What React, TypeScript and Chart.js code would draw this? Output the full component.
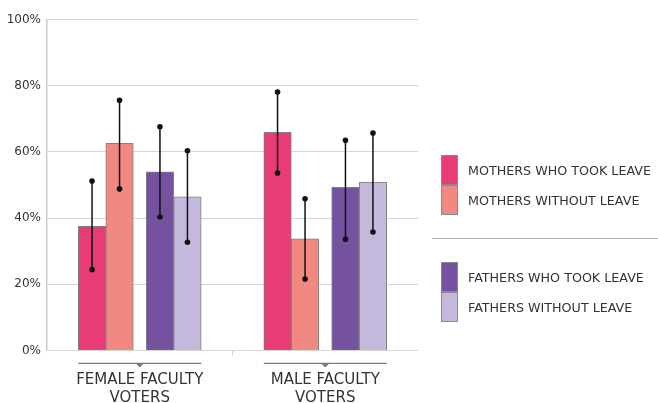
import { useEffect, useRef } from "react";
import { Chart, registerables } from "chart.js";

Chart.register(...registerables);

// groups on the x axis (multi-line labels)
const groupLabels = [
  ["FEMALE FACULTY", "VOTERS"],
  ["MALE FACULTY", "VOTERS"],
];

const seriesNames = [
  "MOTHERS WHO TOOK LEAVE",
  "MOTHERS WITHOUT LEAVE",
  "FATHERS WHO TOOK LEAVE",
  "FATHERS WITHOUT LEAVE",
];
const seriesColors = ["#E83C76", "#F18882", "#74529F", "#C4B9DD"];

// share of votes, %
const mothersTook = [37.5, 65.9];
const mothersWithout = [62.6, 33.7];
const fathersTook = [54.0, 49.3];
const fathersWithout = [46.4, 50.9];

// confidence intervals
const mothersTookLow = [24.4, 53.6];
const mothersTookHigh = [51.2, 78.1];
const mothersWithoutLow = [48.8, 21.6];
const mothersWithoutHigh = [75.6, 45.8];
const fathersTookLow = [40.3, 33.6];
const fathersTookHigh = [67.6, 63.5];
const fathersWithoutLow = [32.7, 35.8];
const fathersWithoutHigh = [60.3, 65.7];

const yTicks = [0, 20, 40, 60, 80, 100];

const seriesValues = [mothersTook, mothersWithout, fathersTook, fathersWithout];
const seriesLow = [mothersTookLow, mothersWithoutLow, fathersTookLow, fathersWithoutLow];
const seriesHigh = [mothersTookHigh, mothersWithoutHigh, fathersTookHigh, fathersWithoutHigh];

const FONT = "'DejaVu Sans', sans-serif";
const BAR_WIDTH = 27.5;
// distance of each bar centre from the group centre: mothers pair | gap | fathers pair
const BAR_OFFSETS = [-47.7, -20.2, 20.2, 47.7];

// chunk size so that bar i of 4 sits at its offset from the category centre
const slotThickness = (i: number) => BAR_OFFSETS[i] / (i - 1.5);

const errorBars = {
  id: "errorBars",
  afterDatasetsDraw(chart: Chart) {
    const ctx = chart.ctx;
    const y = chart.scales.y;
    ctx.save();
    seriesValues.forEach((_, i) => {
      const meta = chart.getDatasetMeta(i);
      meta.data.forEach((bar: any, j: number) => {
        const top = y.getPixelForValue(seriesHigh[i][j]);
        const bottom = y.getPixelForValue(seriesLow[i][j]);
        ctx.strokeStyle = "#111";
        ctx.lineWidth = 1.5;
        ctx.beginPath();
        ctx.moveTo(bar.x, top);
        ctx.lineTo(bar.x, bottom);
        ctx.stroke();
        ctx.fillStyle = "#111";
        [top, bottom].forEach((py) => {
          ctx.beginPath();
          ctx.arc(bar.x, py, 2.8, 0, Math.PI * 2);
          ctx.fill();
        });
      });
    });
    ctx.restore();
  },
};

// bracket line with a small notch under each group
const groupBrackets = {
  id: "groupBrackets",
  afterDraw(chart: Chart) {
    const ctx = chart.ctx;
    const first = chart.getDatasetMeta(0).data;
    const last = chart.getDatasetMeta(seriesValues.length - 1).data;
    const yLine = chart.chartArea.bottom + 13;
    ctx.save();
    ctx.strokeStyle = "#7a7a7a";
    ctx.fillStyle = "#7a7a7a";
    ctx.lineWidth = 1.2;
    first.forEach((bar: any, j: number) => {
      const left = bar.x - bar.width / 2;
      const right = (last[j] as any).x + (last[j] as any).width / 2;
      const mid = (left + right) / 2;
      ctx.beginPath();
      ctx.moveTo(left, yLine);
      ctx.lineTo(right, yLine);
      ctx.stroke();
      ctx.beginPath();
      ctx.moveTo(mid - 4, yLine);
      ctx.lineTo(mid + 4, yLine);
      ctx.lineTo(mid, yLine + 4);
      ctx.closePath();
      ctx.fill();
    });
    ctx.restore();
  },
};

function Legend() {
  const rows = [
    { top: 155, items: [0, 1] },
    { top: 262, items: [2, 3] },
  ];
  return (
    <>
      {rows.map((row) =>
        row.items.map((i, k) => (
          <div key={i}>
            <div
              style={{
                position: "absolute",
                left: 441,
                top: row.top + k * 30,
                width: 17,
                height: 30,
                boxSizing: "border-box",
                background: seriesColors[i],
                border: "1px solid #8a8a8a",
              }}
            />
            <div
              style={{
                position: "absolute",
                left: 468,
                top: row.top + k * 30,
                height: 30,
                lineHeight: "31px",
                fontFamily: FONT,
                fontSize: 12.7,
                color: "#333",
                whiteSpace: "nowrap",
              }}
            >
              {seriesNames[i]}
            </div>
          </div>
        ))
      )}
      <div
        style={{
          position: "absolute",
          left: 432,
          top: 238,
          width: 226,
          height: 1,
          background: "#b5b5b5",
        }}
      />
    </>
  );
}

export default function App() {
  const chartRef = useRef<HTMLCanvasElement>(null);
  const chartInstance = useRef<Chart<"bar"> | null>(null);

  useEffect(() => {
    if (!chartRef.current) return;
    if (chartInstance.current) {
      chartInstance.current.destroy();
    }
    const ctx = chartRef.current.getContext("2d");
    if (!ctx) return;

    chartInstance.current = new Chart(ctx, {
      type: "bar",
      data: {
        labels: groupLabels,
        datasets: seriesValues.map((values, i) => ({
          label: seriesNames[i],
          data: values,
          backgroundColor: seriesColors[i],
          borderColor: "#808080",
          borderWidth: 1,
          barThickness: slotThickness(i),
          maxBarThickness: BAR_WIDTH,
        })),
      },
      options: {
        animation: false,
        responsive: true,
        maintainAspectRatio: false,
        layout: {
          padding: { top: 19.5, right: 240, left: 0, bottom: 0 },
        },
        plugins: {
          legend: { display: false },
          tooltip: { enabled: false },
        },
        scales: {
          x: {
            offset: true,
            border: { display: false },
            grid: {
              drawOnChartArea: false,
              tickLength: 5,
              color: (c: any) => (c.index === 1 ? "#cfcfcf" : "transparent"),
            },
            ticks: {
              color: "#333",
              padding: 16,
              maxRotation: 0,
              font: { family: FONT, size: 15, lineHeight: 1.2 },
            },
            afterFit: (scale: any) => {
              scale.height = 52.6;
            },
          },
          y: {
            min: 0,
            max: 100,
            afterBuildTicks: (scale: any) => {
              scale.ticks = yTicks.map((v) => ({ value: v }));
            },
            border: { display: true, color: "#cccccc", width: 1.5 },
            grid: { color: "#d6d6d6", lineWidth: 1, drawTicks: false },
            ticks: {
              color: "#333",
              padding: 6,
              font: { family: FONT, size: 12 },
              callback: (v: any) => `${v}%`,
            },
            afterFit: (scale: any) => {
              scale.width = 47;
            },
          },
        },
      },
      plugins: [errorBars, groupBrackets],
    });

    return () => {
      if (chartInstance.current) {
        chartInstance.current.destroy();
        chartInstance.current = null;
      }
    };
  }, []);

  return (
    <div
      style={{
        position: "absolute",
        left: 0,
        top: 0,
        width: 658,
        height: 403,
        background: "#fff",
      }}
    >
      <canvas ref={chartRef}></canvas>
      <Legend />
    </div>
  );
}
